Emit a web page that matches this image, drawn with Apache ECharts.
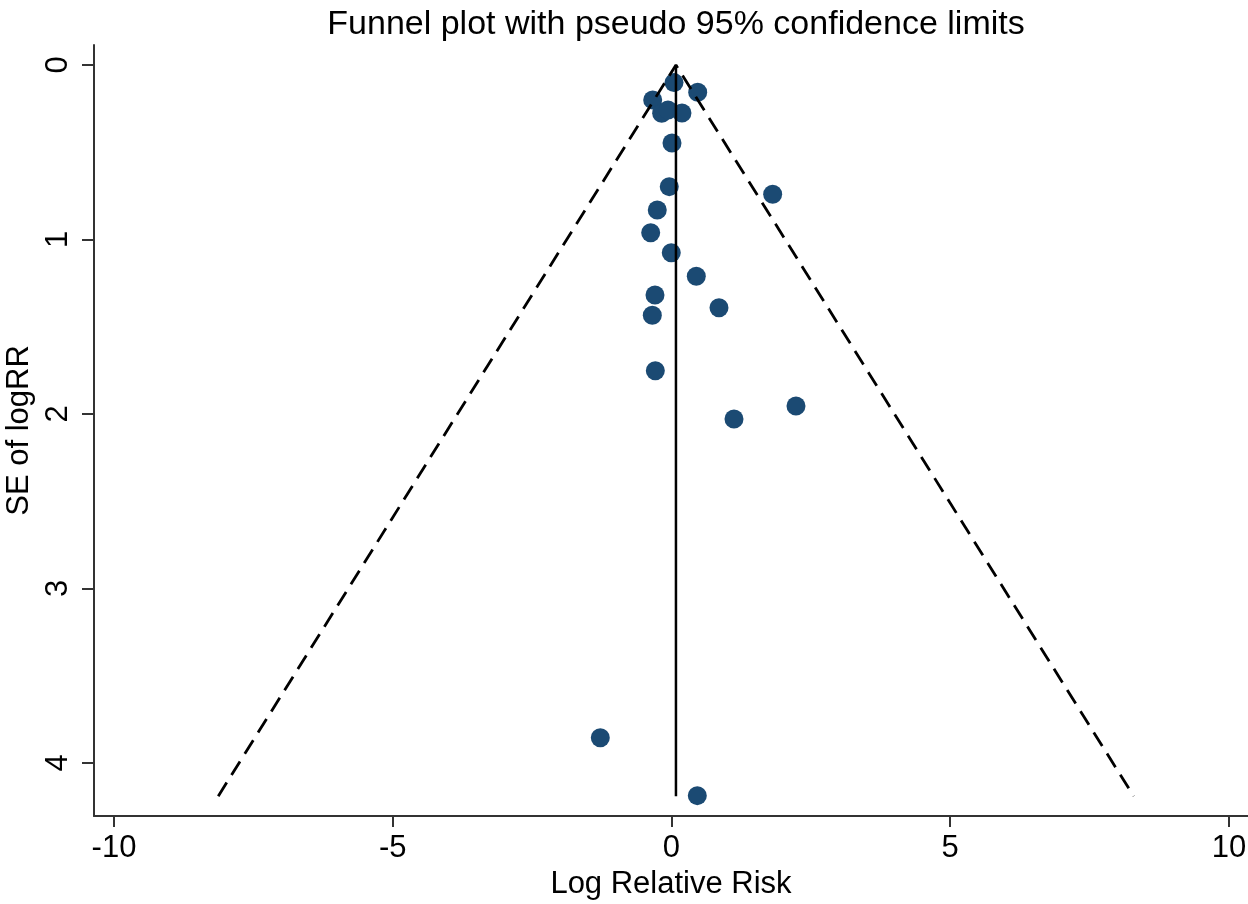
<!DOCTYPE html>
<html>
<head>
<meta charset="utf-8">
<script src="https://cdn.jsdelivr.net/npm/echarts@6/dist/echarts.min.js"></script>
<style>
html,body{margin:0;padding:0;background:#fff;}
#chart{width:1248px;height:904px;}
</style>
</head>
<body>
<div id="chart"></div>
<script>
// Study estimates
var logRR   = [0.045, 0.47, -0.337, -0.176, -0.063, 0.188, 0.009, -0.04, -0.255, 1.815, -0.373, -0.004, 0.445, -0.296, 0.852, -0.344, -0.29, 2.233, 1.121, -1.277, 0.463];
var seLogRR = [0.101, 0.156, 0.20, 0.277, 0.258, 0.275, 0.447, 0.697, 0.831, 0.741, 0.961, 1.076, 1.211, 1.318, 1.391, 1.434, 1.752, 1.954, 2.029, 3.855, 4.187];

// Pooled estimate line and pseudo 95% limits
var pooledX = [0.08, 0.08];
var pooledY = [0, 4.19];
var funnelX = [-8.13, 0.08, 8.29];
var funnelY = [4.19, 0, 4.19];

// Axis ticks
var xTicks = [-10, -5, 0, 5, 10];
var yTicks = [0, 1, 2, 3, 4];

var FONT = '"Liberation Sans", Arial, Helvetica, sans-serif';

var points = logRR.map(function (x, i) { return [x, seLogRR[i]]; });
var pooledLine = pooledX.map(function (x, i) { return [x, pooledY[i]]; });
var funnelLine = funnelX.map(function (x, i) { return [x, funnelY[i]]; });

var chart = echarts.init(document.getElementById('chart'), null, {renderer: 'canvas'});
chart.setOption({
  animation: false,
  backgroundColor: '#ffffff',
  title: {
    text: 'Funnel plot with pseudo 95% confidence limits',
    left: 671, textAlign: 'center', top: 3,
    textStyle: {fontFamily: FONT, fontSize: 34, fontWeight: 'normal', color: '#000'}
  },
  grid: {left: 94, right: 0, top: 45, bottom: 88, containLabel: false, outerBoundsMode: 'none'},
  xAxis: {
    type: 'value', min: -10.3587, max: 10.341,
    name: 'Log Relative Risk', nameLocation: 'middle', nameGap: 50,
    nameTextStyle: {fontFamily: FONT, fontSize: 31, color: '#000'},
    axisLine: {show: true, onZero: false, lineStyle: {color: '#333', width: 2}},
    axisTick: {show: true, length: 11, customValues: xTicks, lineStyle: {color: '#333', width: 2}},
    axisLabel: {customValues: xTicks, margin: 17, fontFamily: FONT, fontSize: 31, color: '#000'},
    splitLine: {show: false}
  },
  yAxis: {
    type: 'value', inverse: true, min: -0.1146, max: 4.3037,
    name: 'SE of logRR', nameLocation: 'middle', nameRotate: 90, nameGap: 51,
    nameTextStyle: {fontFamily: FONT, fontSize: 31, color: '#000'},
    axisLine: {show: true, onZero: false, lineStyle: {color: '#333', width: 2}},
    axisTick: {show: true, length: 12, customValues: yTicks, lineStyle: {color: '#333', width: 2}},
    axisLabel: {customValues: yTicks, rotate: 90, margin: 20, fontFamily: FONT, fontSize: 31, color: '#000'},
    splitLine: {show: false}
  },
  series: [
    {
      type: 'scatter', data: points, symbol: 'circle', symbolSize: 19, z: 2,
      itemStyle: {color: '#1b4a73', opacity: 1}
    },
    {
      type: 'line', data: funnelLine, symbol: 'none', z: 3, silent: true,
      lineStyle: {color: '#000', width: 2.8, type: [16, 9]}
    },
    {
      type: 'line', data: pooledLine, symbol: 'none', z: 3, silent: true,
      lineStyle: {color: '#000', width: 2.5, type: 'solid'}
    }
  ]
});
</script>
</body>
</html>
